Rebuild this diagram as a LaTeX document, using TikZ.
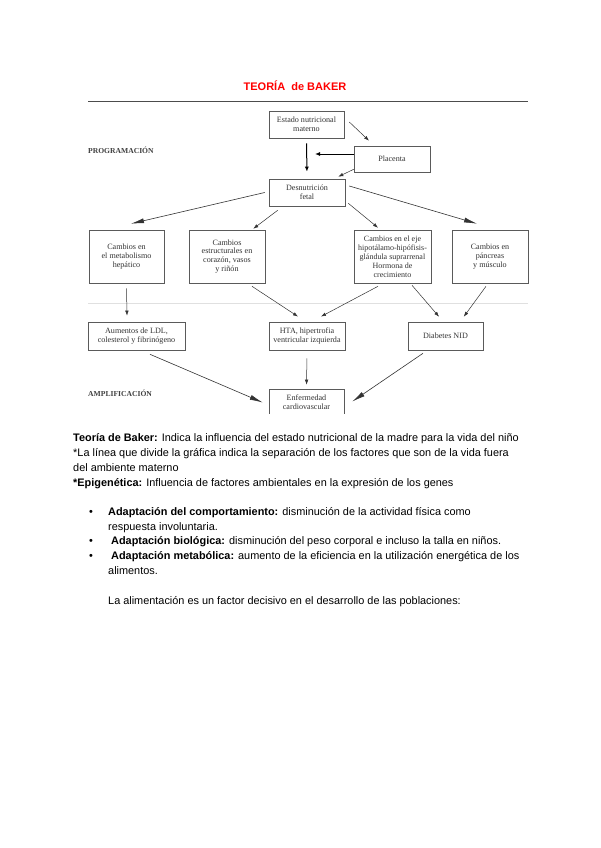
\documentclass[tikz,border=0pt]{standalone}
\usepackage{fontspec}
\setmainfont{Liberation Serif}
\setsansfont{Liberation Sans}
\usetikzlibrary{arrows.meta}
\definecolor{titlered}{RGB}{255,0,0}
\definecolor{boxgray}{RGB}{90,90,90}
\tikzset{
  caja/.style={draw=boxgray,line width=0.6pt,fill=white,align=center,inner sep=1pt,
    font=\fontsize{8.1}{8.9}\selectfont,text=black!80},
  flecha/.style={-{Latex[length=5pt,width=3.5pt]},draw=black!80,line width=0.5pt},
  flechagruesa/.style={-{Latex[length=5pt,width=4pt]},draw=black,line width=1pt},
  cuna/.style={-{Latex[length=13pt,width=5pt]},draw=black!80,line width=0.6pt},
  etiqueta/.style={anchor=west,inner sep=0pt,font=\fontsize{7.6}{8}\selectfont\bfseries,text=black!75},
  texto/.style={anchor=base west,inner sep=0pt,font=\sffamily\fontsize{10.9}{12}\selectfont}
}
\begin{document}
\begin{tikzpicture}[x=1pt,y=-1pt]
\useasboundingbox[fill=white] (0,0) rectangle (600,848);
% titulo
\node[font=\sffamily\bfseries\fontsize{11}{13}\selectfont,text=titlered] (titulo) at (295,86) {TEORÍA\ \ de BAKER};
\draw[black!70,line width=0.8pt] (88,101) -- (528,101);
\draw[black!12,line width=0.6pt] (88,303) -- (528,303);
\node[etiqueta] (prog) at (88,150) {PROGRAMACIÓN};
\node[etiqueta] (ampl) at (88,393) {AMPLIFICACIÓN};
% cajas
\node[caja,minimum width=75pt,minimum height=27pt] (estado) at (306.5,124.5) {Estado nutricional\\materno};
\node[caja,minimum width=76pt,minimum height=26pt] (placenta) at (392,159) {Placenta};
\node[caja,minimum width=76pt,minimum height=27pt] (desn) at (307,192.5) {Desnutrición\\fetal};
\node[caja,minimum width=75pt,minimum height=53pt] (metab) at (126.5,256.5) {Cambios en\\el metabolismo\\hepático};
\node[caja,minimum width=76pt,minimum height=53pt] (struct) at (227,256.5) {Cambios\\estructurales en\\corazón, vasos\\y riñón};
\node[caja,minimum width=77pt,minimum height=53pt,inner sep=0pt,font=\fontsize{8}{8.9}\selectfont] (eje) at (392.5,256.5) {Cambios en el eje\\hipotálamo-hipófisis-\\glándula suprarrenal\\Hormona de\\crecimiento};
\node[caja,minimum width=76pt,minimum height=53pt] (pancreas) at (490,256.5) {Cambios en\\páncreas\\y músculo};
\node[caja,minimum width=97pt,minimum height=28pt] (ldl) at (136.5,336) {Aumentos de LDL,\\colesterol y fibrinógeno};
\node[caja,minimum width=76pt,minimum height=28pt,line width=0.9pt,inner sep=0pt] (hta) at (307,336) {HTA, hipertrofia\\ventricular izquierda};
\node[caja,minimum width=75pt,minimum height=28pt] (diab) at (445.5,336) {Diabetes NID};
\begin{scope}
\clip (0,0) rectangle (600,413);
\node[caja,minimum width=75pt,minimum height=27pt] (enf) at (306.5,402.5) {Enfermedad\\cardiovascular};
\end{scope}
\coordinate (union) at (315,154);
% flechas
\draw[flecha] ([shift={(5pt,2.5pt)}]estado.east) -- ([shift={(-23pt,5pt)}]placenta.north);
\draw[flechagruesa,shorten <=5pt,shorten >=7pt] (estado.south) -- (desn.north);
\draw[flechagruesa] ([yshift=5pt]placenta.west) -- (union);
\draw[flecha] ([yshift=3pt]placenta.south west) -- ([shift={(-7pt,2pt)}]desn.north east);
\draw[cuna] ([xshift=-4pt]desn.west) -- ([shift={(4.5pt,6pt)}]metab.north);
\draw[flecha] ([shift={(9pt,-4pt)}]desn.south west) -- ([shift={(-12pt,1pt)}]struct.north east);
\draw[flecha] ([shift={(3pt,3pt)}]desn.south east) -- ([shift={(-14.5pt,2pt)}]eje.north);
\draw[cuna] ([shift={(4pt,6.5pt)}]desn.east) -- ([shift={(-13pt,6pt)}]pancreas.north);
\draw[flecha] ([yshift=-5pt]metab.south) -- ([shift={(-9.5pt,6pt)}]ldl.north);
\draw[flecha] ([shift={(25pt,-3pt)}]struct.south) -- ([shift={(-9pt,5pt)}]hta.north);
\draw[flecha] ([shift={(-14.5pt,-3pt)}]eje.south) -- ([shift={(14pt,5pt)}]hta.north);
\draw[flecha] ([shift={(19.5pt,-2pt)}]eje.south) -- ([shift={(-6.5pt,5pt)}]diab.north);
\draw[flecha] ([shift={(-4pt,-3pt)}]pancreas.south) -- ([shift={(-19.5pt,5pt)}]diab.north east);
\draw[cuna] ([shift={(13.5pt,-4pt)}]ldl.south) -- ([shift={(-6pt,0pt)}]enf.west);
\draw[flecha,shorten <=8pt,shorten >=4pt] (hta.south) -- (enf.north);
\draw[cuna] ([shift={(-22.5pt,-3pt)}]diab.south) -- ([shift={(8pt,1pt)}]enf.east);
% texto
\node[texto] (t1) at (73,441) {\textbf{Teoría de Baker:} Indica la influencia del estado nutricional de la madre para la vida del niño};
\node[texto] (t2) at (73,456) {*La línea que divide la gráfica indica la separación de los factores que son de la vida fuera};
\node[texto] (t3) at (73,471) {del ambiente materno};
\node[texto] (t4) at (73,486) {\textbf{*Epigenética:} Influencia de factores ambientales en la expresión de los genes};
\foreach \y in {515,544,559}
  \node[texto] at (89,\y) {\textbullet};
\node[texto] (b1) at (108,515) {\textbf{Adaptación del comportamiento:} disminución de la actividad física como};
\node[texto] (b1b) at (108,530) {respuesta involuntaria.};
\node[texto] (b2) at (111,544) {\textbf{Adaptación biológica:} disminución del peso corporal e incluso la talla en niños.};
\node[texto] (b3) at (111,559) {\textbf{Adaptación metabólica:} aumento de la eficiencia en la utilización energética de los};
\node[texto] (b3b) at (108,574) {alimentos.};
\node[texto] (t5) at (108,604) {La alimentación es un factor decisivo en el desarrollo de las poblaciones:};
\end{tikzpicture}
\end{document}
